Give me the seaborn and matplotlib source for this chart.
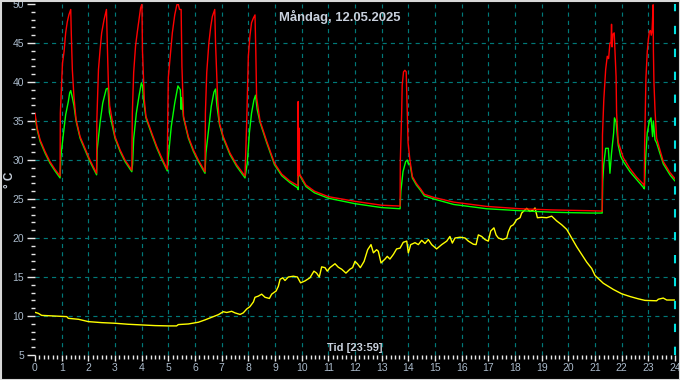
import matplotlib
matplotlib.use("Agg")
import matplotlib.pyplot as plt
from matplotlib.patches import Rectangle
from matplotlib.ticker import MultipleLocator
import seaborn as sns
import pandas as pd

# ---------------- data (hours, °C) ----------------
red_t = [0.00, 0.08, 0.19, 0.375, 0.56, 0.75, 0.94,
         0.95, 1.03, 1.09, 1.15, 1.21, 1.27, 1.34, 1.36, 1.40, 1.46, 1.54, 1.69, 1.875, 2.06, 2.31,
         2.32, 2.38, 2.44, 2.50, 2.59, 2.68, 2.71, 2.75, 2.80, 3.00, 3.19, 3.375, 3.63,
         3.65, 3.70, 3.77, 3.84, 3.90, 3.96, 4.01, 4.03, 4.10, 4.16, 4.375, 4.56, 4.75, 4.96,
         4.98, 5.00, 5.07, 5.15, 5.24, 5.32, 5.37, 5.42, 5.48, 5.51, 5.57, 5.75, 5.94, 6.125, 6.375,
         6.39, 6.44, 6.52, 6.59, 6.65, 6.74, 6.77, 6.85, 6.92, 7.06, 7.31, 7.56, 7.875,
         7.94, 8.00, 8.06, 8.12, 8.19, 8.25, 8.28, 8.31, 8.44, 8.69, 8.98, 9.25, 9.56, 9.86,
         9.87, 9.88, 9.90, 9.92, 10.16, 10.48, 11.0, 11.5, 12.0, 12.5, 13.0, 13.69,
         13.70, 13.75, 13.77, 13.82, 13.87, 13.92, 13.96, 13.99, 14.06, 14.15, 14.30, 14.46, 14.60, 14.96,
         15.7, 16.94, 18.19, 19.4, 20.81, 21.27,
         21.28, 21.33, 21.40, 21.46, 21.51, 21.56, 21.60, 21.62, 21.64, 21.67, 21.72, 21.75, 21.79, 21.81,
         21.87, 22.06, 22.31, 22.56, 22.81, 22.85,
         22.86, 22.91, 22.96, 23.00, 23.04, 23.08, 23.11, 23.14, 23.18, 23.19, 23.21, 23.25, 23.31,
         23.56, 23.81, 24.00]
red_v = [36.0, 34.1, 32.6, 31.1, 29.8, 28.8, 27.95,
         36.0, 42.4, 43.9, 46.3, 47.7, 48.6, 49.3, 46.3, 41.6, 38.1, 35.2, 33.0, 31.5, 30.0, 28.3,
         35.2, 41.6, 44.1, 46.3, 48.0, 49.3, 45.0, 40.0, 37.0, 33.0, 31.3, 30.0, 28.7,
         36.0, 41.2, 44.6, 46.5, 48.0, 49.5, 50.0, 44.0, 37.7, 35.6, 33.5, 31.8, 30.3, 28.8,
         36.0, 40.6, 43.3, 46.3, 48.6, 49.9, 50.0, 49.3, 49.3, 42.0, 35.6, 33.0, 31.3, 30.0, 28.5,
         36.0, 41.2, 45.0, 47.1, 48.4, 49.3, 45.0, 37.7, 34.7, 33.0, 30.9, 29.4, 27.95,
         35.0, 43.3, 45.9, 47.6, 48.2, 48.6, 44.0, 38.0, 35.0, 32.4, 29.6, 28.2, 27.3, 26.7,
         37.5, 28.0, 34.1, 28.2, 26.8, 26.0, 25.3, 25.0, 24.7, 24.45, 24.2, 24.1,
         30.0, 36.0, 39.6, 41.3, 41.5, 41.3, 35.8, 32.2, 30.0, 27.9, 27.0, 26.3, 25.6, 25.2,
         24.6, 24.05, 23.75, 23.6, 23.5, 23.45,
         33.2, 37.7, 41.6, 43.3, 43.0, 45.0, 45.0, 47.4, 44.5, 46.1, 46.3, 44.0, 40.7, 36.0,
         32.3, 30.3, 28.9, 27.8, 26.9, 26.7,
         31.7, 40.5, 43.9, 45.4, 46.5, 46.6, 46.0, 46.5, 49.9, 44.0, 40.0, 36.4, 32.8,
         29.8, 28.4, 27.6]

green_t = [0.00, 0.08, 0.19, 0.375, 0.56, 0.75, 0.94,
           0.97, 1.07, 1.15, 1.25, 1.30, 1.34, 1.40, 1.46, 1.54, 1.69, 1.875, 2.06, 2.31,
           2.33, 2.44, 2.54, 2.67, 2.74, 2.79, 3.00, 3.19, 3.375, 3.63,
           3.66, 3.70, 3.80, 3.90, 3.99, 4.03, 4.07, 4.16, 4.375, 4.56, 4.75, 4.96,
           5.00, 5.11, 5.24, 5.36, 5.45, 5.48, 5.50, 5.57, 5.75, 5.94, 6.125, 6.375,
           6.41, 6.51, 6.61, 6.71, 6.77, 6.82, 6.92, 7.06, 7.31, 7.56, 7.875,
           7.96, 8.04, 8.12, 8.21, 8.27, 8.33, 8.44, 8.69, 8.98, 9.25, 9.56, 9.86,
           9.87, 9.88, 9.93, 10.16, 10.48, 11.0, 11.5, 12.0, 12.5, 13.0, 13.69,
           13.72, 13.80, 13.90, 13.96, 14.00, 14.06, 14.15, 14.30, 14.46, 14.60, 14.96,
           15.7, 16.94, 18.19, 19.4, 20.81, 21.27,
           21.28, 21.29, 21.33, 21.40, 21.50, 21.56, 21.62, 21.70, 21.73, 21.79, 21.87, 21.96,
           22.06, 22.31, 22.56, 22.81, 22.85,
           22.88, 22.91, 22.96, 23.04, 23.10, 23.16, 23.19, 23.25, 23.31, 23.56, 23.81, 24.00]
green_v = [35.6, 33.9, 32.4, 30.9, 29.6, 28.6, 27.7,
           30.4, 33.5, 35.8, 37.5, 38.6, 38.9, 38.0, 37.0, 35.0, 32.8, 31.3, 29.8, 28.1,
           31.3, 34.8, 37.3, 39.1, 39.2, 36.1, 32.8, 31.1, 29.8, 28.5,
           29.5, 32.7, 36.0, 38.2, 39.9, 39.5, 37.7, 35.4, 33.3, 31.6, 30.1, 28.6,
           30.4, 34.3, 37.3, 39.5, 39.0, 36.5, 38.0, 35.4, 32.8, 31.1, 29.8, 28.3,
           30.9, 33.9, 36.9, 38.7, 39.1, 37.0, 34.5, 32.8, 30.7, 29.2, 27.7,
           29.6, 33.5, 36.0, 37.7, 38.3, 36.5, 34.8, 32.2, 29.4, 28.0, 27.1, 26.4,
           26.2, 29.2, 28.0, 26.6, 25.8, 25.1, 24.75, 24.4, 24.15, 23.9, 23.75,
           26.0, 28.5, 29.8, 30.0, 29.5, 29.5, 27.7, 26.8, 26.1, 25.4, 25.0,
           24.3, 23.75, 23.5, 23.3, 23.2, 23.2,
           24.9, 27.3, 29.5, 31.5, 31.5, 28.3, 30.9, 33.5, 35.4, 34.9, 31.9, 30.5,
           29.8, 28.5, 27.5, 26.5, 26.3,
           28.5, 30.9, 33.5, 35.0, 35.4, 33.0, 35.0, 32.6, 32.2, 29.5, 28.1, 27.3]

yellow_t = [0.0, 0.125, 0.25, 0.5, 0.75, 1.19, 1.25, 1.63, 2.0, 2.5, 3.0, 3.5, 4.0, 4.5, 5.0, 5.31,
            5.375, 5.75, 6.125, 6.375, 6.625, 6.875, 7.06, 7.19, 7.375, 7.5, 7.69, 7.81, 7.94, 8.06,
            8.19, 8.25, 8.375, 8.5, 8.625, 8.79, 8.875, 9.04, 9.125, 9.19, 9.29, 9.375, 9.5, 9.69,
            9.84, 9.96, 10.125, 10.31, 10.46, 10.56, 10.66, 10.75, 10.875, 10.96, 11.06, 11.25,
            11.375, 11.5, 11.66, 11.81, 11.91, 12.0, 12.09, 12.2, 12.34, 12.475, 12.6, 12.69, 12.81,
            12.875, 12.975, 13.125, 13.21, 13.31, 13.44, 13.56, 13.69, 13.81, 13.94, 14.0, 14.09,
            14.25, 14.375, 14.5, 14.625, 14.75, 14.875, 15.06, 15.25, 15.44, 15.56, 15.65, 15.75,
            15.94, 16.125, 16.25, 16.44, 16.54, 16.625, 16.75, 16.875, 17.0, 17.09, 17.21, 17.29,
            17.375, 17.54, 17.69, 17.75, 17.84, 17.94, 18.06, 18.19, 18.25, 18.34, 18.44, 18.56,
            18.69, 18.75, 18.84, 19.0, 19.19, 19.375, 19.56, 19.75, 19.94, 20.125, 20.31, 20.5,
            20.69, 20.875, 21.0, 21.31, 21.69, 22.0, 22.31, 22.625, 22.875, 23.31, 23.375, 23.56,
            23.69, 24.0]
yellow_v = [10.47, 10.34, 10.08, 10.04, 10.0, 9.92, 9.7, 9.58, 9.28, 9.15, 9.07, 8.94, 8.86, 8.77,
            8.73, 8.73, 8.9, 8.98, 9.2, 9.5, 9.83, 10.17, 10.55, 10.45, 10.6, 10.4, 10.2, 10.4, 10.9,
            11.2, 11.8, 12.4, 12.55, 12.8, 12.4, 12.25, 12.8, 13.2, 13.8, 14.7, 14.9, 14.55, 15.0,
            15.1, 15.0, 14.25, 14.5, 14.9, 15.75, 15.5, 15.0, 16.3, 16.2, 15.75, 16.2, 16.7, 16.25,
            16.0, 15.5, 16.0, 16.2, 17.0, 16.7, 16.2, 17.0, 18.5, 19.15, 18.1, 18.5, 18.3, 16.8,
            17.3, 17.65, 17.3, 17.9, 18.6, 18.7, 19.45, 19.6, 18.1, 19.15, 19.4, 19.15, 19.7, 19.3,
            19.8, 19.15, 18.6, 19.15, 19.6, 20.2, 19.35, 20.0, 20.1, 20.0, 19.6, 19.2, 19.15, 20.4,
            20.2, 19.8, 19.6, 20.9, 21.3, 20.4, 20.0, 19.8, 20.0, 20.8, 21.5, 21.7, 22.35, 22.6,
            23.2, 23.5, 23.8, 23.4, 23.6, 23.85, 22.6, 22.65, 22.6, 22.8, 22.2, 21.7, 21.1, 20.0,
            18.9, 17.9, 16.9, 16.1, 15.2, 14.2, 13.4, 12.85, 12.5, 12.2, 12.0, 11.95, 12.15, 12.3,
            12.05, 12.05]

x_ticks = list(range(0, 25))
y_ticks = list(range(5, 51, 5))
title_text = "Måndag, 12.05.2025"
x_label = "Tid [23:59]"
y_label = "° C"

# ---------------- style ----------------
sns.set_theme(style="dark")
plt.rcParams['font.family'] = ['Liberation Sans', 'DejaVu Sans']
label_col = "#aabacb"
grid_col = "#007878"

fig = plt.figure(figsize=(6.8, 3.8), dpi=100, facecolor="black")
ax = fig.add_axes([35 / 680, 25 / 380, 640 / 680, 351 / 380])
ax.set_facecolor("black")

df_y = pd.DataFrame({"t": yellow_t, "v": yellow_v})
df_r = pd.DataFrame({"t": red_t, "v": red_v})
df_g = pd.DataFrame({"t": green_t, "v": green_v})

sns.lineplot(data=df_y, x="t", y="v", color="#ffff00", linewidth=1.0, ax=ax,
             sort=False, estimator=None)
sns.lineplot(data=df_g, x="t", y="v", color="#00ff00", linewidth=1.0, ax=ax,
             sort=False, estimator=None)
sns.lineplot(data=df_r, x="t", y="v", color="#ff0000", linewidth=1.0, ax=ax,
             sort=False, estimator=None)

ax.set_xlim(0, 24)
ax.set_ylim(5, 50)
ax.set_xticks(x_ticks)
ax.set_xticklabels([str(t) for t in x_ticks])
ax.set_yticks(y_ticks)
ax.set_yticklabels([str(t) for t in y_ticks])
ax.xaxis.set_minor_locator(MultipleLocator(1 / 6))
ax.yaxis.set_minor_locator(MultipleLocator(1))

for s in ax.spines.values():
    s.set_visible(False)

ax.tick_params(axis="y", which="major", direction="out", length=6, width=1,
               color="#e8e8e8", labelcolor=label_col, labelsize=7.5, pad=2, left=True)
ax.tick_params(axis="y", which="minor", direction="out", length=3, width=1,
               color="#e8e8e8", left=True)
ax.tick_params(axis="x", which="major", direction="out", length=4, width=1,
               color="#e8e8e8", labelcolor=label_col, labelsize=7.5, pad=2, bottom=True)
ax.tick_params(axis="x", which="minor", direction="out", length=3, width=1,
               color="#e8e8e8", bottom=True)

ax.grid(True, which="major", color=grid_col, linestyle=(0, (3.5, 3.5)), linewidth=0.85)
ax.grid(False, which="minor")
xg = ax.xaxis.get_gridlines()
xg[0].set_visible(False)
xg[-1].set_visible(False)
yg = ax.yaxis.get_gridlines()
yg[0].set_visible(False)
yg[-1].set_visible(False)

# current time marker
ax.axvline(24, color="#00e0e0", linestyle=(0, (4, 7)), linewidth=1.5, clip_on=False)

ax.set_xlabel(x_label, color="#c8d0dc", fontsize=8, fontweight="bold")
ax.xaxis.set_label_coords(0.5, 0.02)
ax.xaxis.label.set_verticalalignment("center")
ax.set_ylabel(y_label, color="#c8d0dc", fontsize=8.5, fontweight="bold")
ax.yaxis.set_label_coords(-0.039, 0.5)
ax.yaxis.label.set_verticalalignment("center")

fig.text(0.5, 1 - 17 / 380, title_text, ha="center", va="center", color="#c8d0dc",
         fontsize=9.4, fontweight="bold")

fig.patches.append(Rectangle((0.5 / 680, 0.5 / 380), 679 / 680, 379 / 380,
                             transform=fig.transFigure, fill=False,
                             edgecolor="#d8d8d8", linewidth=1.5))

fig.savefig("out.png", dpi=100, facecolor="black")
